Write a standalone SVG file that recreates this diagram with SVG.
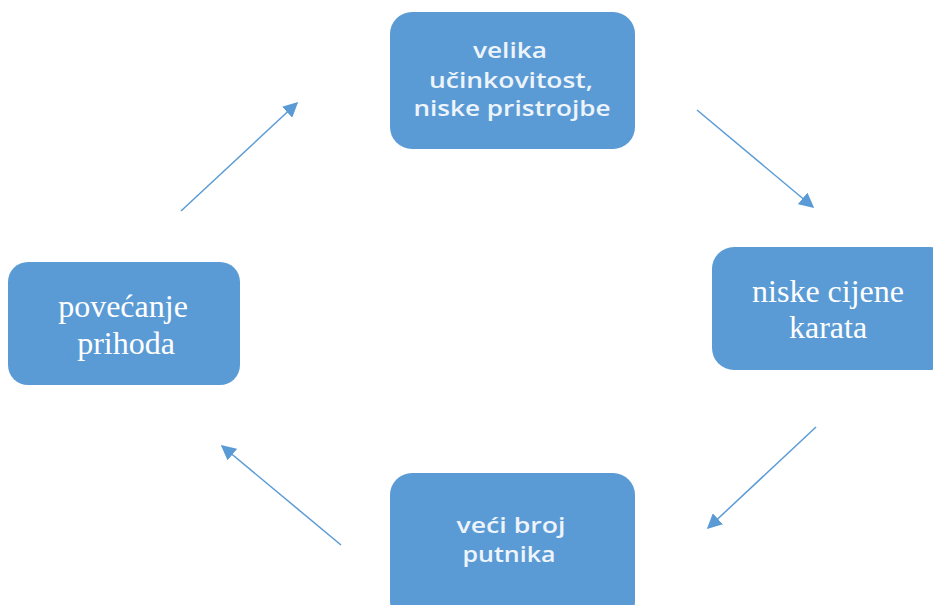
<svg xmlns="http://www.w3.org/2000/svg" width="933" height="605" viewBox="0 0 933 605">
<defs>
<style>
.box{fill:#5B9BD5;}
.sans{font-family:"Open Sans",Lato,"Liberation Sans",sans-serif;font-size:21px;font-weight:600;fill:#EEF4FB;text-anchor:middle;}
.serif{font-family:"Liberation Serif","Times New Roman",serif;font-size:32px;fill:#FFFFFF;text-anchor:middle;}
.conn{stroke:#5B9BD5;stroke-width:1.5;fill:none;marker-end:url(#ah);}
</style>
<marker id="ah" viewBox="0 0 10 10" refX="9" refY="5" markerWidth="15" markerHeight="15" markerUnits="userSpaceOnUse" orient="auto">
<path d="M0,0 L10,5 L0,10 z" fill="#5B9BD5"/>
</marker>
</defs>
<rect width="933" height="605" fill="#FFFFFF"/>
<g id="connectors">
<line class="conn" x1="181" y1="211" x2="297" y2="103"/>
<line class="conn" x1="697" y1="110" x2="813" y2="207"/>
<line class="conn" x1="816" y1="427" x2="708" y2="528"/>
<line class="conn" x1="341" y1="545" x2="222" y2="446"/>
</g>
<g id="node-top">
<rect class="box" x="390" y="12" width="245" height="137" rx="22"/>
<text class="sans" x="510" y="58" textLength="74" lengthAdjust="spacingAndGlyphs">velika</text>
<text class="sans" x="511" y="88" textLength="164" lengthAdjust="spacingAndGlyphs">učinkovitost,</text>
<text class="sans" x="512" y="116" textLength="197" lengthAdjust="spacingAndGlyphs">niske pristrojbe</text>
</g>
<g id="node-right">
<rect class="box" x="712" y="247" width="240" height="123" rx="22"/>
<text class="serif" x="828" y="302">niske cijene</text>
<text class="serif" x="828" y="338">karata</text>
</g>
<g id="node-bottom">
<rect class="box" x="390" y="473" width="245" height="150" rx="22"/>
<text class="sans" x="511" y="533" textLength="109" lengthAdjust="spacingAndGlyphs">veći broj</text>
<text class="sans" x="509" y="562" textLength="93" lengthAdjust="spacingAndGlyphs">putnika</text>
</g>
<g id="node-left">
<rect class="box" x="8" y="262" width="232" height="123" rx="20"/>
<text class="serif" x="123" y="317">povećanje</text>
<text class="serif" x="126" y="354">prihoda</text>
</g>
</svg>
